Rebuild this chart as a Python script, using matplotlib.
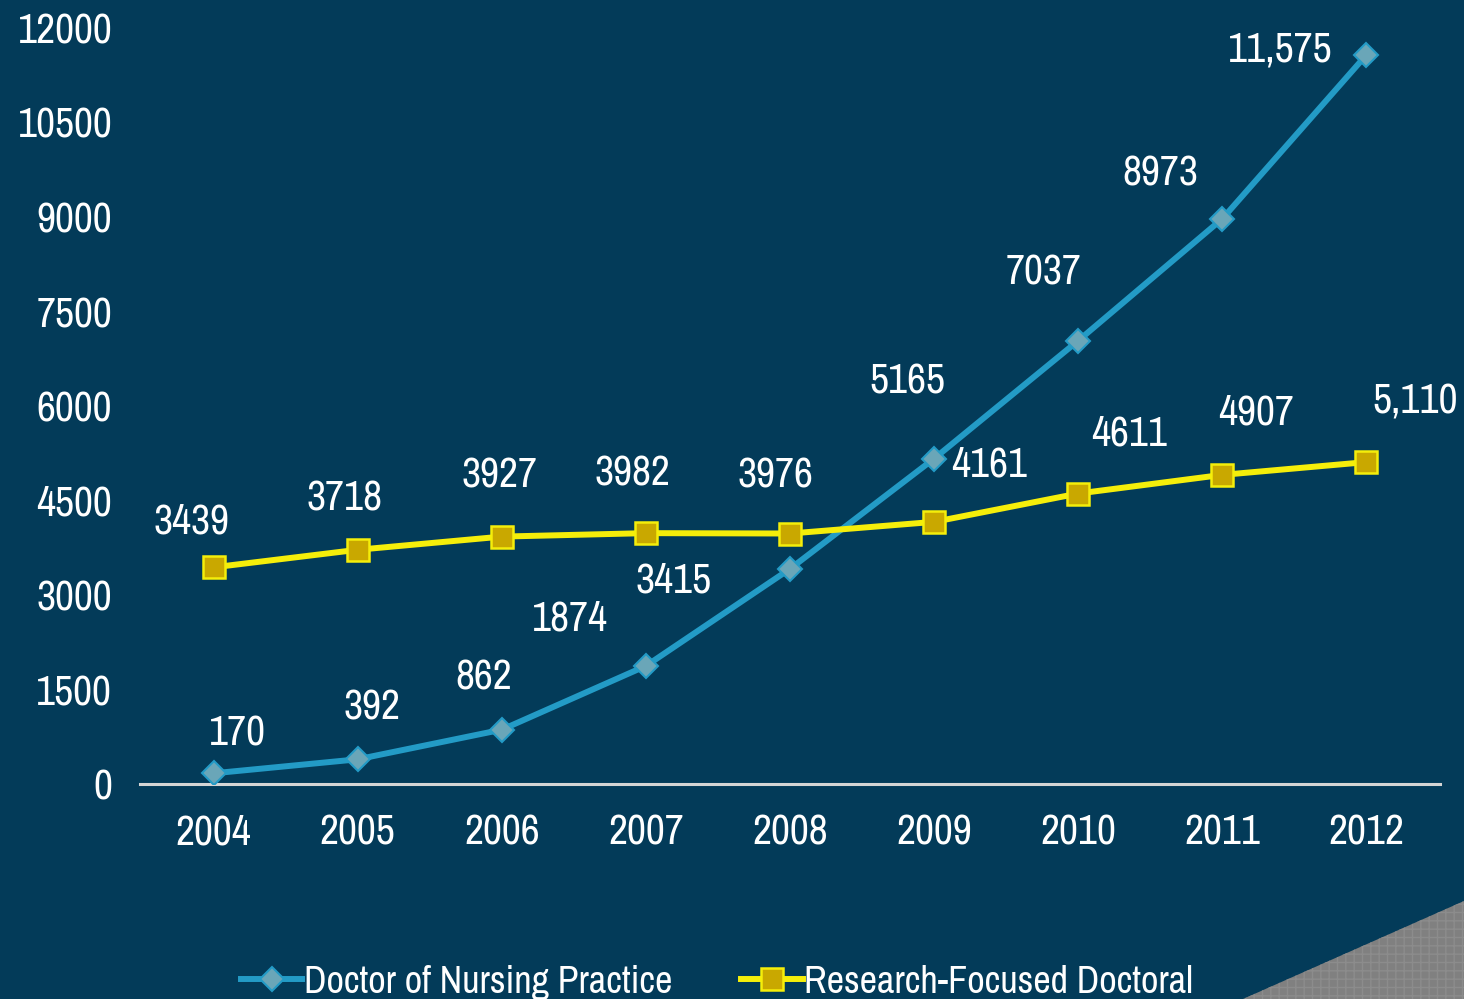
import matplotlib
matplotlib.use("Agg")
import matplotlib.pyplot as plt
from matplotlib.patches import Polygon

# ---- data ----
years = [2004, 2005, 2006, 2007, 2008, 2009, 2010, 2011, 2012]
dnp = [170, 392, 862, 1874, 3415, 5165, 7037, 8973, 11575]
research = [3439, 3718, 3927, 3982, 3976, 4161, 4611, 4907, 5110]
dnp_labels = ["170", "392", "862", "1874", "3415", "5165", "7037", "8973", "11,575"]
research_labels = ["3439", "3718", "3927", "3982", "3976", "4161", "4611", "4907", "5,110"]
yticks = [0, 1500, 3000, 4500, 6000, 7500, 9000, 10500, 12000]
series_names = ["Doctor of Nursing Practice", "Research-Focused Doctoral"]

# label offsets in pixels (x right, y up)
dnp_off = [(24, 40), (14, 52), (-18, 52), (-76, 47), (-116, -12), (-27, 77), (-35, 68), (-62, 45), (-86, 5)]
res_off = [(-22, 46), (-13, 51), (-2, 61), (-13, 60), (-15, 58), (55, 57), (51, 60), (34, 62), (49, 61)]

BG = "#033b59"
BLUE = "#239bc6"
YELLOW = "#f5ee0a"
FONT = ["Archivo Narrow", "Roboto Condensed", "Liberation Sans", "DejaVu Sans"]
plt.rcParams["font.family"] = FONT
plt.rcParams["hatch.color"] = "#9a9a9a"

fig = plt.figure(figsize=(14.64, 9.99), dpi=100, facecolor=BG)
ax = fig.add_axes([140 / 1464, 1 - 784 / 999, 1300 / 1464, 756 / 999])
ax.set_facecolor(BG)

# decorative grey triangle bottom-right
tri = Polygon([[1243 / 1464, 0], [1, 0], [1, 1 - 901 / 999]], closed=True,
              transform=fig.transFigure, facecolor="#808080", edgecolor="#8c8c8c",
              lw=0, hatch="++", zorder=0)
fig.patches.append(tri)

ax.plot(years, dnp, color=BLUE, lw=4.3, marker="D", markersize=12.5,
        markerfacecolor="#6aa6b8", markeredgecolor=BLUE, markeredgewidth=1.5,
        label=series_names[0], zorder=3)
ax.plot(years, research, color=YELLOW, lw=4.3, marker="s", markersize=16,
        markerfacecolor="#c9a800", markeredgecolor=YELLOW, markeredgewidth=1.8,
        label=series_names[1], zorder=3)

for x, y, t, (dx, dy) in zip(years, dnp, dnp_labels, dnp_off):
    ax.annotate(t, (x, y), xytext=(dx, dy), textcoords="offset pixels",
                ha="center", va="center", color="white", fontsize=30)
for x, y, t, (dx, dy) in zip(years, research, research_labels, res_off):
    ax.annotate(t, (x, y), xytext=(dx, dy), textcoords="offset pixels",
                ha="center", va="center", color="white", fontsize=30)

ax.set_xlim(2003.49, 2012.51)
ax.set_ylim(0, 12000)
ax.set_xticks(years)
ax.set_yticks(yticks)
ax.set_yticklabels([str(v) for v in yticks])
ax.tick_params(axis="both", length=0, colors="white", labelsize=30)
ax.tick_params(axis="x", pad=21)
ax.tick_params(axis="y", pad=20)
for s in ["top", "right", "left"]:
    ax.spines[s].set_visible(False)
ax.spines["bottom"].set_color("#d5d5d5")
ax.spines["bottom"].set_linewidth(2.2)

leg = fig.legend(loc="center", bbox_to_anchor=(0.49, 0.017), ncol=2, frameon=False,
                 fontsize=27.5, handlelength=1.6, handletextpad=0.05, columnspacing=1.8,
                 labelcolor="white")

fig.savefig("out.png", dpi=100, facecolor=BG)
